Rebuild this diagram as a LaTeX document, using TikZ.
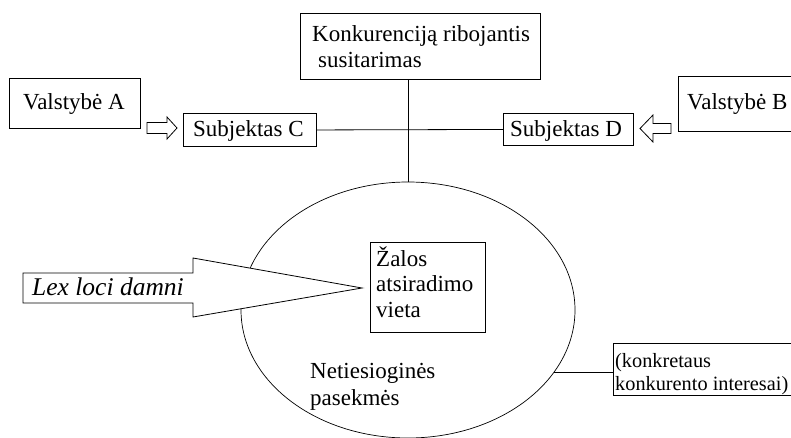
\documentclass[tikz,border=0pt]{standalone}
\usepackage{fontspec}
\setmainfont{Liberation Serif}
\usetikzlibrary{shapes.geometric}
\tikzset{
  box/.style={draw, line width=0.9pt, inner sep=0pt, anchor=north west},
  txt/.style={inner sep=0pt, align=left, anchor=base west, font=\fontsize{23}{26}\selectfont},
  conn/.style={line width=0.8pt},
  hollow/.style={draw, line width=0.8pt, fill=white}
}
\begin{document}
\begin{tikzpicture}[x=1pt, y=-1pt]
\useasboundingbox (0,0) rectangle (791,438);
\clip (0,0) rectangle (791,438);
% boxes
\node[box, minimum width=240pt, minimum height=66pt] (kbox) at (300,13) {};
\node[txt] (ktxt) at (312,68) {Konkurencij\k{a} ribojantis\\\hspace*{6pt}susitarimas};
\node[box, minimum width=131pt, minimum height=50pt] (vA) at (9,78) {};
\node[txt] (vAt) at (23,110) {Valstybė A};
\node[box, minimum width=133pt, minimum height=33pt] (sC) at (183,113) {};
\node[txt] (sCt) at (193,137) {Subjektas C};
\node[box, minimum width=130pt, minimum height=32pt] (sD) at (503,113) {};
\node[txt] (sDt) at (510,137) {Subjektas D};
\node[box, minimum width=130pt, minimum height=55pt] (vB) at (678,76) {};
\node[txt] (vBt) at (687,110) {Valstybė B};
% ellipse
\node[ellipse, draw, line width=0.7pt, inner sep=0pt, minimum width=334pt, minimum height=256pt] (ell) at (408,310) {};
% connectors
\draw[conn] (kbox.south -| ell.north) -- (ell.north);
\draw[conn] (sC.east) -- (sD.west);
% hollow arrows
\draw[hollow] (147,122.5) -- (167,122.5) -- (167,117) -- (177,128) -- (167,139) -- (167,133.5) -- (147,133.5) -- cycle;
\draw[hollow] (671,123.5) -- (653,123.5) -- (653,115) -- (640,128.5) -- (653,142) -- (653,133.5) -- (671,133.5) -- cycle;
% big arrow
\draw[hollow] (23,273) -- (193,273) -- (193,258) -- (362,288) -- (193,317) -- (193,303) -- (23,303) -- cycle;
\node[txt, font=\fontsize{25.5}{28}\selectfont\itshape] (lex) at (32,295) {Lex loci damni};
% inner box
\node[box, fill=white, minimum width=115pt, minimum height=90pt] (zbox) at (370,242) {};
\node[txt, font=\fontsize{23}{25.5}\selectfont] (ztxt) at (376,317) {Žalos\\atsiradimo\\vieta};
\node[txt, font=\fontsize{23}{27}\selectfont] (ntxt) at (310,405) {Netiesioginės\\pasekmės};
% right lower box
\node[box, minimum width=200pt, minimum height=52pt] (kk) at (613,343) {};
\node[txt, font=\fontsize{20.3}{23}\selectfont] (kktxt) at (615,390) {(konkretaus\\konkurento interesai)};
\draw[conn] (ell.-23) -- (ell.-23 -| kk.west);
\end{tikzpicture}
\end{document}
